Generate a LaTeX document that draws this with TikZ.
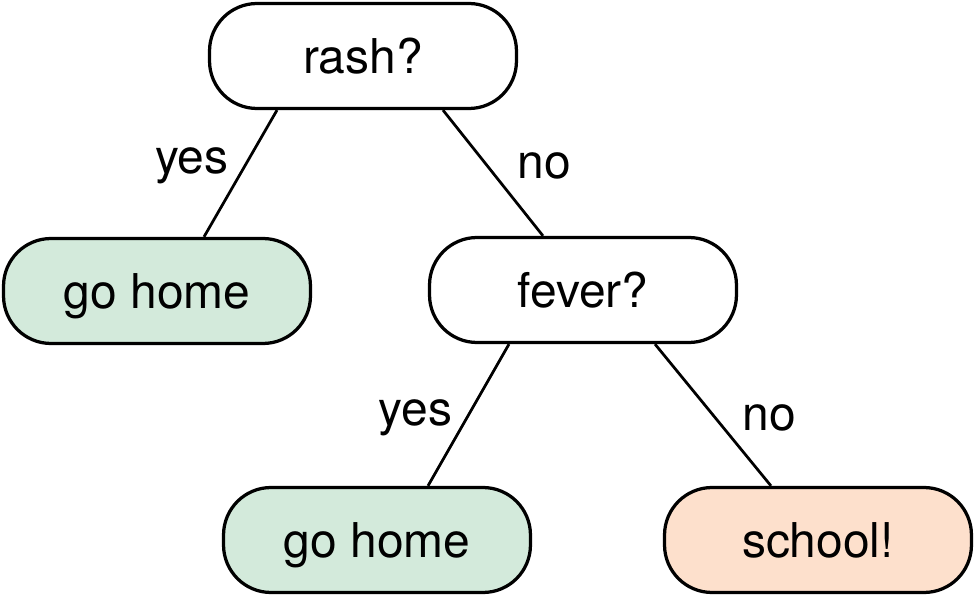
\documentclass[tikz,border=0pt]{standalone}
\usepackage{fontspec}
\setmainfont{TeX Gyre Heros}
\definecolor{homegreen}{HTML}{D3EADB}
\definecolor{schoolpeach}{HTML}{FDE0CC}

\begin{document}
\begin{tikzpicture}[x=0.02cm, y=0.02cm,
	decision/.style={draw, line width=0.065cm, rectangle, rounded corners=0.95cm, minimum width=6.14cm, minimum height=2.1cm, text depth=0.05em, font=\fontsize{27.3}{32}\selectfont},
	edgetext/.style={text depth=0pt, yshift=-0.1cm, font=\fontsize{27.3}{32}\selectfont},
	branch/.style={line width=0.055cm}]
	\useasboundingbox (0,0) rectangle (975,596);
	\node[decision] (rash)at(363, 540) {rash?};
	\node[decision, fill=homegreen] (homeA)at(157, 305) {go home};
	\node[decision] (fever)at(583, 306) {fever?};
	\node[decision, fill=homegreen] (homeB)at(377, 56) {go home};
	\node[decision, fill=schoolpeach] (school)at(818, 56) {school!};
	\draw[branch] ([xshift=-1.72cm]rash.south) -- node[edgetext, pos=.36, left=0.3cm] {yes} ([xshift=0.94cm]homeA.north);
	\draw[branch] ([xshift=1.6cm]rash.south) -- node[edgetext, pos=.4, right=0.55cm] {no} ([xshift=-0.8cm]fever.north);
	\draw[branch] ([xshift=-1.48cm]fever.south) -- node[edgetext, pos=.45, left=0.26cm] {yes} ([xshift=1.02cm]homeB.north);
	\draw[branch] ([xshift=1.44cm]fever.south) -- node[edgetext, pos=.48, right=0.5cm] {no} ([xshift=-0.94cm]school.north);
\end{tikzpicture}
\end{document}
